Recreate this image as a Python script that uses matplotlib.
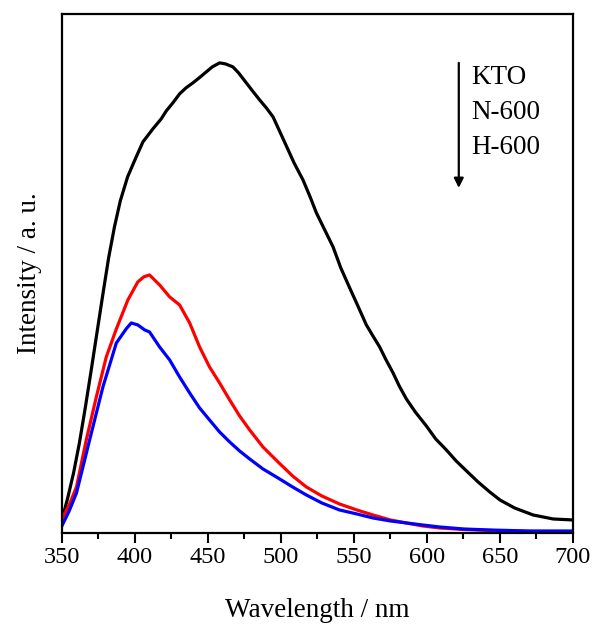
import matplotlib.pyplot as plt
from matplotlib.ticker import MultipleLocator

plt.rcParams['font.family'] = ['Liberation Serif', 'DejaVu Serif']

# KTO (black)
kto_x = [350, 354, 358, 362, 366, 370, 374, 378, 382, 386, 390, 395, 400,
         405.5, 412.3, 418, 421.5, 426, 430.6, 435, 439.7, 444, 448.9, 453, 458, 462,
         467.1, 471, 476.3, 480, 485.4, 490, 494.6, 499, 503.7, 509, 515.1, 520,
         524.3, 530, 535.7, 541, 547.1, 553, 558.5, 563, 567.6, 572, 576.8, 581,
         585.9, 592, 599.6, 606, 613.3, 620, 627.1, 635, 643, 650, 660, 672.7, 686.4, 700]
kto_y = [13, 35, 60, 90, 125, 162, 200, 238, 275, 306, 332, 356, 373,
         391, 404, 414, 422, 430, 439, 445, 450, 455, 461, 466, 470, 469,
         466, 460, 450, 443, 433, 425, 416, 402, 387, 370, 353, 336,
         320, 303, 286, 265, 245, 226, 208, 197, 186, 173, 160, 147,
         134, 121, 107, 94, 83, 72, 62, 51, 41, 33, 25, 18, 14, 13]

# N-600 (red)
n600_x = [350, 355, 360, 366.7, 373.6, 380.4, 387.3, 395.2, 402, 406, 410,
          416.9, 423.8, 430.6, 437.5, 444.3, 451.1, 458, 464.9, 471.7, 478.6,
          487.7, 498, 508, 517.4, 528, 540.1, 552, 563, 575, 586, 597, 608.7,
          625, 643, 670, 700]
n600_y = [14, 28, 46, 93, 136, 176, 204, 233, 251, 256, 258,
          248, 236, 228, 210, 186, 166, 150, 133, 117, 103,
          86, 71, 57, 46, 37, 29, 23, 18, 13, 10, 7, 5,
          3.5, 2.5, 1.5, 1]

# H-600 (blue)
h600_x = [350, 355, 360, 369, 378.1, 387.3, 394, 397.5, 402, 406.7, 410,
          416.9, 423.8, 430.6, 437.5, 444.3, 451.1, 458, 464.9, 471.7, 478.6,
          487.7, 498, 508, 517.4, 528, 540.1, 552, 563, 575, 586, 597, 608.7,
          625, 643, 670, 700]
h600_y = [7, 22, 40, 93, 146, 190, 204, 210, 208, 203, 201,
          186, 173, 156, 140, 125, 113, 101, 91, 82, 74,
          64, 55, 46, 38, 30, 23, 19, 15, 12, 10, 8, 6,
          4, 3, 2, 2]

labels = ['KTO', 'N-600', 'H-600']

fig = plt.figure(figsize=(5.95, 6.3), dpi=100)
ax = fig.add_axes([0.104, 0.154, 0.859, 0.824])

ax.plot(kto_x, kto_y, color='black', lw=2.3)
ax.plot(n600_x, n600_y, color='red', lw=2.3)
ax.plot(h600_x, h600_y, color='blue', lw=2.3)

ax.set_xlim(350, 700)
ax.set_ylim(0, 519)
ax.xaxis.set_major_locator(MultipleLocator(50))
ax.xaxis.set_minor_locator(MultipleLocator(25))
ax.set_yticks([])
ax.tick_params(axis='x', which='major', direction='out', length=7, width=1.5,
               labelsize=17.5, pad=3, top=False)
ax.tick_params(axis='x', which='minor', direction='out', length=4.5, width=1.5, top=False)
for s in ax.spines.values():
    s.set_linewidth(1.6)

ax.set_xlabel('Wavelength / nm', fontsize=19.5, labelpad=22)
ax.set_ylabel('Intensity / a. u.', fontsize=19.5, labelpad=14)

# arrow with sample order
ax.annotate('', xy=(621.8, 345), xytext=(621.8, 470),
            arrowprops=dict(arrowstyle='-|>', color='black', lw=1.6,
                            mutation_scale=14, shrinkA=0, shrinkB=0))
for i, lab in enumerate(labels):
    ax.text(630.5, 455 - 35 * i, lab, fontsize=19.5, va='center', ha='left')

fig.savefig('out.png', dpi=100)
